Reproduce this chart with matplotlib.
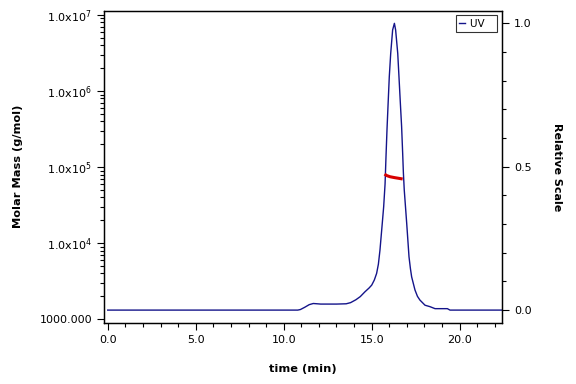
import matplotlib
matplotlib.use("Agg")
import matplotlib.pyplot as plt
from matplotlib.ticker import FixedLocator, MultipleLocator, LogLocator, NullFormatter

# UV trace (relative scale)
time_uv = [0.0, 10.8, 10.95, 11.2, 11.45, 11.68, 11.9, 12.1, 13.0, 13.55, 13.8,
           14.1, 14.35, 14.62, 14.85, 15.0, 15.15, 15.28, 15.38, 15.47, 15.60,
           15.68, 15.76, 15.81, 15.87, 15.94, 16.0, 16.08, 16.19, 16.29, 16.36,
           16.48, 16.55, 16.63, 16.70, 16.76, 16.80, 16.85, 16.99, 17.12, 17.2,
           17.27, 17.46, 17.6, 17.74, 18.03, 18.31, 18.6, 19.3, 19.45, 22.4]
uv = [0.0, 0.0, 0.002, 0.01, 0.019, 0.023, 0.022, 0.021, 0.021, 0.022, 0.026,
      0.036, 0.047, 0.064, 0.077, 0.087, 0.105, 0.128, 0.16, 0.209, 0.302,
      0.36, 0.44, 0.53, 0.63, 0.73, 0.814, 0.895, 0.977, 1.0, 0.977,
      0.895, 0.814, 0.72, 0.64, 0.547, 0.48, 0.419, 0.302, 0.186, 0.145,
      0.116, 0.07, 0.048, 0.035, 0.017, 0.012, 0.005, 0.005, 0.0, 0.0]

# molar mass across the main peak
time_mm = [15.73, 15.85, 16.04, 16.3, 16.55, 16.76]
molar_mass = [81000, 77500, 74800, 72800, 71200, 69800]

left_ticks = [1e3, 1e4, 1e5, 1e6, 1e7]
left_labels = ["1000.000", r"1.0x10$^{4}$", r"1.0x10$^{5}$", r"1.0x10$^{6}$", r"1.0x10$^{7}$"]

fig = plt.figure(figsize=(5.76, 3.84), dpi=100)
ax = fig.add_axes([0.1806, 0.1596, 0.6914, 0.8125])
ax2 = ax.twinx()

ax2.plot(time_uv, uv, color="#14148a", lw=1.0, label="UV   ")
ax.plot(time_mm, molar_mass, color="#d80000", lw=2.2, solid_capstyle="butt")
ax.set_zorder(ax2.get_zorder() + 1)
ax.patch.set_visible(False)

ax.set_yscale("log")
ax.set_ylim(1000 * 10 ** (-0.045), 1e7 * 10 ** 0.056)
ax.set_xlim(-0.21, 22.42)
ax2.set_ylim(-0.044, 1.044)

ax.yaxis.set_major_locator(FixedLocator(left_ticks))
ax.set_yticklabels(left_labels)
ax.yaxis.set_minor_locator(LogLocator(base=10, subs=range(2, 10)))
ax.yaxis.set_minor_formatter(NullFormatter())

ax.xaxis.set_major_locator(MultipleLocator(5))
ax.xaxis.set_minor_locator(MultipleLocator(1))
ax.xaxis.set_major_formatter(plt.FuncFormatter(lambda v, p: f"{v:.1f}"))

ax2.yaxis.set_major_locator(MultipleLocator(0.5))
ax2.yaxis.set_minor_locator(MultipleLocator(0.1))
ax2.yaxis.set_major_formatter(plt.FuncFormatter(lambda v, p: f"{v:.1f}"))

for a in (ax, ax2):
    a.tick_params(which="major", length=5, width=0.8, labelsize=8, direction="out")
    a.tick_params(which="minor", length=3, width=0.8, direction="out")
    for s in a.spines.values():
        s.set_linewidth(0.9)

ax.set_xlabel("time (min)", fontsize=8.2, fontweight="bold", labelpad=14)
ax.set_ylabel("Molar Mass (g/mol)", fontsize=8.2, fontweight="bold", labelpad=12)
ax2.set_ylabel("Relative Scale", fontsize=8, fontweight="bold", rotation=270, labelpad=22)

leg = ax2.legend(loc="upper right", fontsize=7.5, frameon=True, fancybox=False,
                 handlelength=0.55, handletextpad=0.5, borderpad=0.3,
                 borderaxespad=0.0, bbox_to_anchor=(0.988, 0.985))
leg.get_frame().set_edgecolor("black")
leg.get_frame().set_linewidth(0.8)

fig.savefig("out.png", dpi=100)
